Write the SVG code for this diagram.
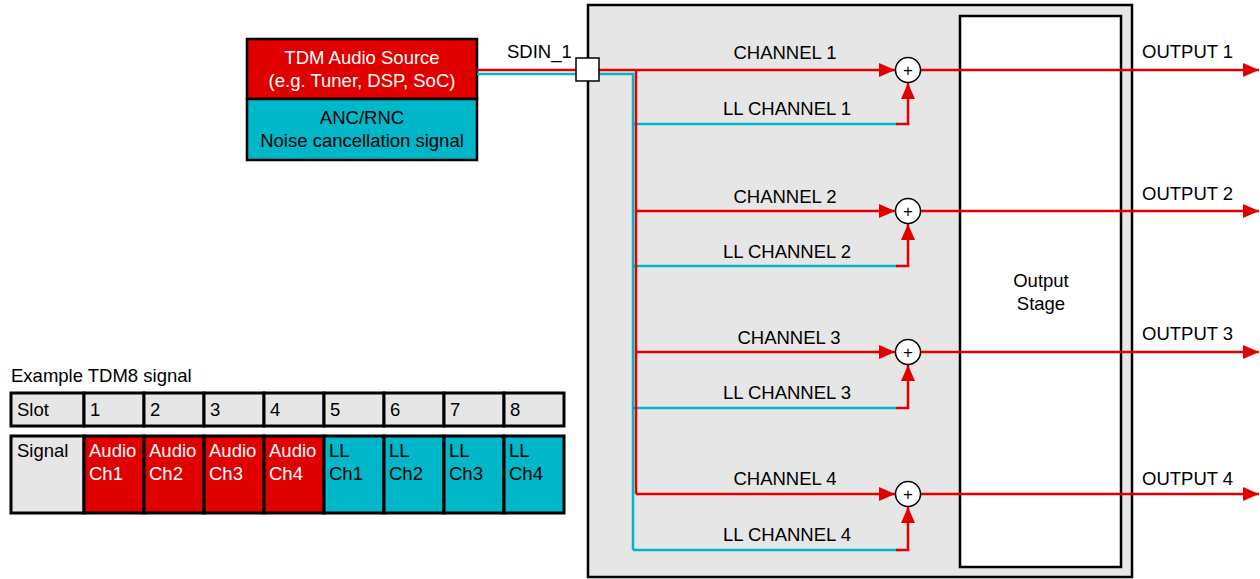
<svg xmlns="http://www.w3.org/2000/svg" width="1260" height="579" viewBox="0 0 1260 579">
<style>
text{font-family:"Liberation Sans",Arial,sans-serif;font-size:18.5px;fill:#000}
.w{fill:#fff}
.c{text-anchor:middle}
.red{stroke:#e00000;stroke-width:2.5;fill:none}
.cy{stroke:#00b7c9;stroke-width:2.5;fill:none}
.cell{stroke:#000;stroke-width:3}
.plus{font-size:17px;text-anchor:middle}
</style>
<defs>
<marker id="ah" markerWidth="16" markerHeight="14" refX="16" refY="7" orient="auto" markerUnits="userSpaceOnUse"><path d="M0,0 L16,7 L0,14 Z" fill="#e00000"/></marker>
</defs>
<rect width="1260" height="579" fill="#fff"/>
<g id="device">
<rect x="588" y="5" width="544" height="572" fill="#e6e6e6" stroke="#000" stroke-width="2.5"/>
</g>
<g id="output-stage">
<rect x="960" y="16" width="161" height="551" fill="#fff" stroke="#000" stroke-width="2.5"/>
<text class="c" x="1041" y="287">Output</text>
<text class="c" x="1041" y="310">Stage</text>
</g>
<g id="source">
<rect x="247" y="39" width="230" height="60" fill="#e00000" stroke="#000" stroke-width="2.5"/>
<rect x="247" y="99" width="230" height="61" fill="#00b7c9" stroke="#000" stroke-width="2.5"/>
<text class="c w" x="362" y="64">TDM Audio Source</text>
<text class="c w" x="362" y="87">(e.g. Tuner, DSP, SoC)</text>
<text class="c" x="362" y="124">ANC/RNC</text>
<text class="c" x="362" y="147">Noise cancellation signal</text>
</g>
<g id="connectors">
<path class="red" stroke-width="2" d="M477,70 H577"/>
<path class="cy" stroke-width="2" d="M477,74 H577"/>
<path class="cy" d="M599,74 H633 V550"/>
<path class="cy" d="M633,124 H897"/>
<path class="cy" d="M633,266 H897"/>
<path class="cy" d="M633,408 H897"/>
<path class="cy" d="M633,550 H897"/>
<path class="red" d="M599,70 H895" marker-end="url(#ah)"/>
<path class="red" d="M636,70 V494"/>
<path class="red" d="M636,211 H895" marker-end="url(#ah)"/>
<path class="red" d="M636,352 H895" marker-end="url(#ah)"/>
<path class="red" d="M636,494 H895" marker-end="url(#ah)"/>
<path class="red" d="M896,124 H908 V83" marker-end="url(#ah)"/>
<path class="red" d="M896,266 H908 V224" marker-end="url(#ah)"/>
<path class="red" d="M896,408 H908 V365" marker-end="url(#ah)"/>
<path class="red" d="M896,550 H908 V507" marker-end="url(#ah)"/>
<path class="red" d="M921,70 H1259" marker-end="url(#ah)"/>
<path class="red" d="M921,211 H1259" marker-end="url(#ah)"/>
<path class="red" d="M921,352 H1259" marker-end="url(#ah)"/>
<path class="red" d="M921,494 H1259" marker-end="url(#ah)"/>
<text x="507" y="58">SDIN_1</text>
<text class="c" x="785" y="59">CHANNEL 1</text>
<text class="c" x="787" y="115">LL CHANNEL 1</text>
<text class="c" x="785" y="203">CHANNEL 2</text>
<text class="c" x="787" y="258">LL CHANNEL 2</text>
<text class="c" x="789" y="344">CHANNEL 3</text>
<text class="c" x="787" y="399">LL CHANNEL 3</text>
<text class="c" x="785" y="485">CHANNEL 4</text>
<text class="c" x="787" y="541">LL CHANNEL 4</text>
<text x="1142" y="58">OUTPUT 1</text>
<text x="1142" y="200">OUTPUT 2</text>
<text x="1142" y="340">OUTPUT 3</text>
<text x="1142" y="485">OUTPUT 4</text>
</g>
<g id="sdin">
<rect x="576" y="58" width="23" height="23" fill="#fff" stroke="#000" stroke-width="1.5"/>
</g>
<g id="adder1"><circle cx="908" cy="70" r="12.5" fill="#fff" stroke="#000" stroke-width="1.5"/><text class="plus" x="908" y="76">+</text></g>
<g id="adder2"><circle cx="908" cy="211" r="12.5" fill="#fff" stroke="#000" stroke-width="1.5"/><text class="plus" x="908" y="217">+</text></g>
<g id="adder3"><circle cx="908" cy="352" r="12.5" fill="#fff" stroke="#000" stroke-width="1.5"/><text class="plus" x="908" y="358">+</text></g>
<g id="adder4"><circle cx="908" cy="494" r="12.5" fill="#fff" stroke="#000" stroke-width="1.5"/><text class="plus" x="908" y="500">+</text></g>
<g id="tdm-table">
<text x="11" y="382">Example TDM8 signal</text>
<g fill="#e6e6e6">
<rect class="cell" x="11" y="393" width="73" height="33"/>
<rect class="cell" x="84" y="393" width="60" height="33"/>
<rect class="cell" x="144" y="393" width="60" height="33"/>
<rect class="cell" x="204" y="393" width="60" height="33"/>
<rect class="cell" x="264" y="393" width="60" height="33"/>
<rect class="cell" x="324" y="393" width="60" height="33"/>
<rect class="cell" x="384" y="393" width="60" height="33"/>
<rect class="cell" x="444" y="393" width="60" height="33"/>
<rect class="cell" x="504" y="393" width="60" height="33"/>
<rect class="cell" x="11" y="436" width="73" height="77"/>
</g>
<g fill="#e00000">
<rect class="cell" x="84" y="436" width="60" height="77"/>
<rect class="cell" x="144" y="436" width="60" height="77"/>
<rect class="cell" x="204" y="436" width="60" height="77"/>
<rect class="cell" x="264" y="436" width="60" height="77"/>
</g>
<g fill="#00b7c9">
<rect class="cell" x="324" y="436" width="60" height="77"/>
<rect class="cell" x="384" y="436" width="60" height="77"/>
<rect class="cell" x="444" y="436" width="60" height="77"/>
<rect class="cell" x="504" y="436" width="60" height="77"/>
</g>
<text x="17" y="416">Slot</text>
<text x="90" y="416">1</text>
<text x="150" y="416">2</text>
<text x="210" y="416">3</text>
<text x="270" y="416">4</text>
<text x="330" y="416">5</text>
<text x="390" y="416">6</text>
<text x="450" y="416">7</text>
<text x="510" y="416">8</text>
<text x="17" y="457">Signal</text>
<text class="w" x="89" y="457">Audio</text><text class="w" x="89" y="480">Ch1</text>
<text class="w" x="149" y="457">Audio</text><text class="w" x="149" y="480">Ch2</text>
<text class="w" x="209" y="457">Audio</text><text class="w" x="209" y="480">Ch3</text>
<text class="w" x="269" y="457">Audio</text><text class="w" x="269" y="480">Ch4</text>
<text x="329" y="457">LL</text><text x="329" y="480">Ch1</text>
<text x="389" y="457">LL</text><text x="389" y="480">Ch2</text>
<text x="449" y="457">LL</text><text x="449" y="480">Ch3</text>
<text x="509" y="457">LL</text><text x="509" y="480">Ch4</text>
</g>
</svg>
